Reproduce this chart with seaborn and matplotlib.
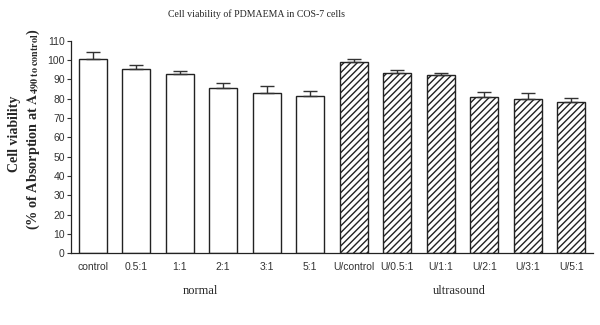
import numpy as np
import pandas as pd
import matplotlib
matplotlib.use("Agg")
import matplotlib.pyplot as plt
import seaborn as sns

##### DATA #####
labels = ["control", "0.5:1", "1:1", "2:1", "3:1", "5:1",
          "U/control", "U/0.5:1", "U/1:1", "U/2:1", "U/3:1", "U/5:1"]
viability = [100.4, 95.2, 92.5, 85.6, 82.7, 81.1,
             99.1, 93.0, 92.0, 80.6, 79.6, 78.3]
sem = [3.7, 2.1, 1.7, 2.4, 4.0, 3.0,
       1.3, 1.6, 1.5, 2.6, 3.1, 2.1]
groups = ["normal"] * 6 + ["ultrasound"] * 6

df = pd.DataFrame({"label": labels, "viability": viability, "sem": sem, "group": groups})

##### PLOT #####
sns.set_style("ticks")
plt.rcParams["font.family"] = ["Liberation Sans", "DejaVu Sans"]
plt.rcParams["mathtext.fontset"] = "stix"
plt.rcParams["hatch.color"] = "#111111"
plt.rcParams["hatch.linewidth"] = 1.0

fig = plt.figure(figsize=(6, 3.25), dpi=100)
ax = fig.add_axes([71 / 600, 1 - 253.3 / 325, 522 / 600, 212.7 / 325])

sns.barplot(data=df, x="label", y="viability", order=labels, color="white",
            edgecolor="#222222", linewidth=1.0, width=0.655, errorbar=None,
            saturation=1, ax=ax)

## hatch the ultrasound group
for patch, g in zip(ax.patches, df["group"]):
    patch.set_facecolor("white")
    if g == "ultrasound":
        patch.set_hatch("/////")

## one-sided (upper) error bars
x = np.arange(len(labels))
ax.errorbar(x, df["viability"], yerr=[np.zeros(len(sem)), df["sem"]],
            fmt="none", ecolor="#333333", elinewidth=1.0, capsize=5, capthick=1.0)

ax.set_xlim(-0.5, len(labels) - 0.5)
ax.set_ylim(0, 110)
ax.set_yticks(range(0, 111, 10))
ax.set_xlabel("")
ax.set_ylabel("")
ax.tick_params(axis="y", length=3, width=0.8, labelsize=7.5, colors="#333333", pad=1.5)
ax.tick_params(axis="x", length=0, labelsize=7.5, colors="#333333", pad=6)
for s in ["top", "right"]:
    ax.spines[s].set_visible(False)
for s in ["left", "bottom"]:
    ax.spines[s].set_linewidth(0.9)
    ax.spines[s].set_color("#222222")

serif = ["Liberation Serif", "DejaVu Serif"]
fig.text(257 / 600, 1 - 14 / 325, "Cell viability of PDMAEMA in COS-7 cells",
         ha="center", va="center", fontsize=7.1, family=serif)
fig.text(200 / 600, 1 - 291 / 325, "normal", ha="center", va="center",
         fontsize=9, family=serif)
fig.text(459 / 600, 1 - 291 / 325, "ultrasound", ha="center", va="center",
         fontsize=9, family=serif)
fig.text(15 / 600, 1 - 134 / 325, "Cell viability", rotation=90, ha="center",
         va="center", fontsize=10, fontweight="bold", family=serif)
fig.text(33 / 600, 1 - 129 / 325,
         r"(% of Absorption at $\mathbf{A}_{\mathbf{490\ to\ control}}$)",
         rotation=90, ha="center", va="center", fontsize=10.3, fontweight="bold",
         family=serif)

fig.savefig("out.png", dpi=100)
